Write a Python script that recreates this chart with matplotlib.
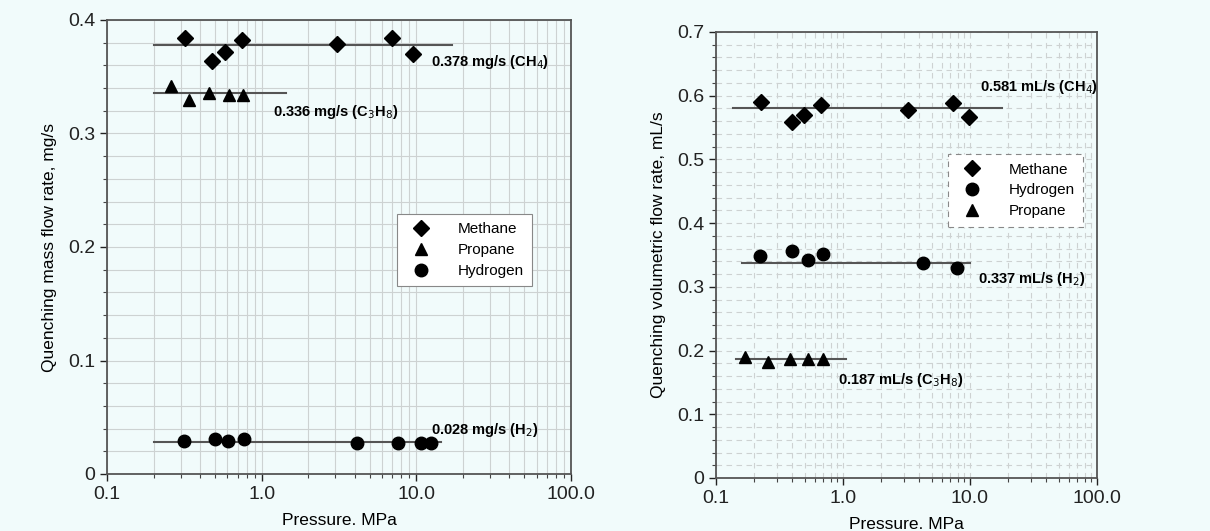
import matplotlib

matplotlib.use("Agg")
import matplotlib.pyplot as plt
from matplotlib.ticker import FixedLocator, MultipleLocator, NullFormatter

plt.rcParams["font.family"] = ["Liberation Sans", "DejaVu Sans"]

# left panel: mass flow rate
mass_ch4_p = [0.318, 0.475, 0.577, 0.743, 3.09, 7.0, 9.56]
mass_ch4_q = [0.384, 0.364, 0.372, 0.382, 0.379, 0.384, 0.370]
mass_c3h8_p = [0.259, 0.338, 0.455, 0.612, 0.753]
mass_c3h8_q = [0.342, 0.3295, 0.3354, 0.334, 0.334]
mass_h2_p = [0.314, 0.498, 0.61, 0.765, 4.16, 7.6, 10.7, 12.4]
mass_h2_q = [0.029, 0.031, 0.029, 0.031, 0.0276, 0.0276, 0.0276, 0.0276]
mass_mean = {"ch4": 0.378, "c3h8": 0.336, "h2": 0.028}
mass_span = {"ch4": (0.2, 17.0), "c3h8": (0.2, 1.43), "h2": (0.2, 14.4)}

# right panel: volumetric flow rate
vol_ch4_p = [0.226, 0.399, 0.489, 0.67, 3.27, 7.36, 9.85]
vol_ch4_q = [0.5906, 0.558, 0.570, 0.586, 0.578, 0.5885, 0.566]
vol_h2_p = [0.222, 0.397, 0.53, 0.69, 4.23, 7.94]
vol_h2_q = [0.348, 0.356, 0.342, 0.351, 0.337, 0.330]
vol_c3h8_p = [0.169, 0.255, 0.383, 0.532, 0.69]
vol_c3h8_q = [0.190, 0.182, 0.186, 0.186, 0.186]
vol_mean = {"ch4": 0.581, "h2": 0.337, "c3h8": 0.187}
vol_span = {"ch4": (0.135, 17.8), "h2": (0.16, 10.0), "c3h8": (0.143, 1.05)}

BG = "#f1fbfb"
LINE = "#555555"

fig = plt.figure(figsize=(12.1, 5.31), dpi=100, facecolor=BG)
ax1 = fig.add_axes([107 / 1210, 1 - 474 / 531, 464 / 1210, 454 / 531])
ax2 = fig.add_axes([716 / 1210, 1 - 478 / 531, 381 / 1210, 446 / 531])


def style_axes(ax, ymax, ystep, grid_ls):
    ax.set_facecolor(BG)
    ax.set_xscale("log")
    ax.set_xlim(0.1, 100)
    ax.set_ylim(0, ymax)
    ax.xaxis.set_major_locator(FixedLocator([0.1, 1, 10, 100]))
    ax.set_xticklabels(["0.1", "1.0", "10.0", "100.0"])
    ax.xaxis.set_minor_formatter(NullFormatter())
    ax.yaxis.set_major_locator(MultipleLocator(ystep))
    ax.yaxis.set_minor_locator(MultipleLocator(0.02))
    ax.yaxis.set_major_formatter(lambda v, pos: "0" if abs(v) < 1e-9 else f"{v:.1f}")
    ax.tick_params(which="major", length=5, width=1, direction="out", labelsize=14, colors="#222222")
    ax.tick_params(which="minor", length=3, width=0.8, direction="out", colors="#444444")
    ax.grid(True, which="both", color="#cdd2d2", lw=0.8, ls=grid_ls)
    ax.set_axisbelow(True)
    for sp in ax.spines.values():
        sp.set_color("#555555")
        sp.set_linewidth(1.3)
    ax.set_xlabel("Pressure. MPa", fontsize=12.5, labelpad=7)


style_axes(ax1, 0.4, 0.1, "-")
style_axes(ax2, 0.7, 0.1, (0, (5, 4)))

mk = dict(color="black", linestyle="none", ms=9)
leg_kw = dict(loc="upper left", fontsize=11, frameon=True, fancybox=False, edgecolor="#888888",
              facecolor="white", framealpha=1, handletextpad=1.4, borderpad=0.55, labelspacing=0.45,
              borderaxespad=0)

# left
ax1.plot(mass_ch4_p, mass_ch4_q, marker="D", label="Methane", **dict(mk, ms=8))
ax1.plot(mass_c3h8_p, mass_c3h8_q, marker="^", label="Propane", **mk)
ax1.plot(mass_h2_p, mass_h2_q, marker="o", label="Hydrogen", **mk)
for key in ("ch4", "c3h8", "h2"):
    ax1.plot(mass_span[key], [mass_mean[key]] * 2, color=LINE, lw=1.5, zorder=1)
ax1.text(12.5, 0.363, "0.378 mg/s (CH$_4$)", fontsize=10.5, fontweight="bold", va="center")
ax1.text(1.18, 0.319, "0.336 mg/s (C$_3$H$_8$)", fontsize=10.5, fontweight="bold", va="center")
ax1.text(12.5, 0.0388, "0.028 mg/s (H$_2$)", fontsize=10.5, fontweight="bold", va="center")
ax1.set_ylabel("Quenching mass flow rate, mg/s", fontsize=12.5, labelpad=8)
leg1 = ax1.legend(bbox_to_anchor=(0.625, 0.573), **leg_kw)
leg1.get_frame().set_linewidth(0.8)

# right
ax2.plot(vol_ch4_p, vol_ch4_q, marker="D", label="Methane", **dict(mk, ms=8))
ax2.plot(vol_h2_p, vol_h2_q, marker="o", label="Hydrogen", **mk)
ax2.plot(vol_c3h8_p, vol_c3h8_q, marker="^", label="Propane", **mk)
for key in ("ch4", "h2", "c3h8"):
    ax2.plot(vol_span[key], [vol_mean[key]] * 2, color=LINE, lw=1.5, zorder=1)
ax2.text(12.0, 0.614, "0.581 mL/s (CH$_4$)", fontsize=10.5, fontweight="bold", va="center")
ax2.text(11.6, 0.312, "0.337 mL/s (H$_2$)", fontsize=10.5, fontweight="bold", va="center")
ax2.text(0.91, 0.154, "0.187 mL/s (C$_3$H$_8$)", fontsize=10.5, fontweight="bold", va="center")
ax2.set_ylabel("Quenching volumetric flow rate, mL/s", fontsize=12.5, labelpad=8)
leg2 = ax2.legend(bbox_to_anchor=(0.609, 0.726), **leg_kw)
leg2.get_frame().set_linewidth(0.8)
leg2.get_frame().set_linestyle((0, (5, 4)))

fig.savefig("out.png", dpi=100, facecolor=BG)
